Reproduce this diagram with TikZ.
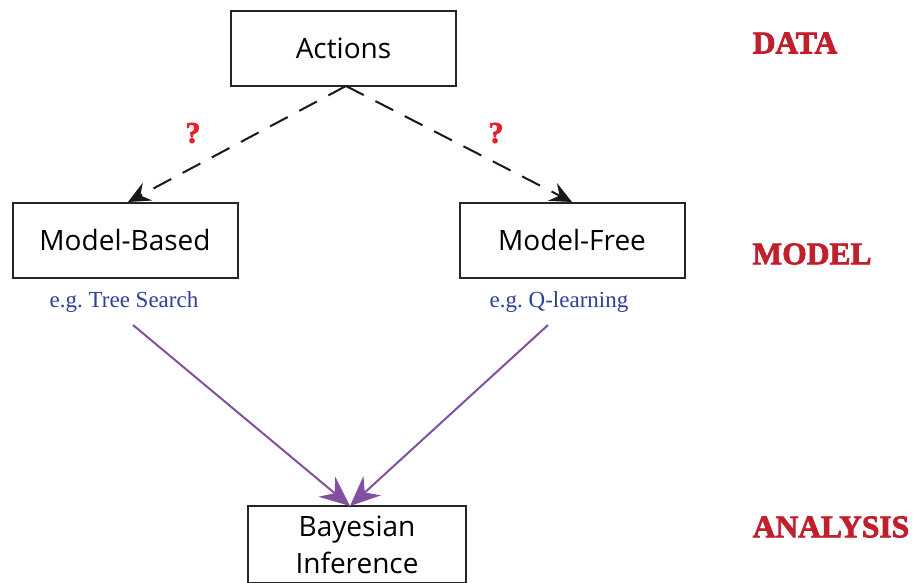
\documentclass[tikz,border=0pt]{standalone}
\usepackage{fontspec}
\setmainfont{Liberation Serif}
\newfontfamily\boxfont{Open Sans}
\newfontfamily\stagefont[FakeBold=2.5]{Liberation Serif Bold}
\usetikzlibrary{arrows.meta}
\definecolor{lblred}{HTML}{C0202E}
\definecolor{qred}{HTML}{E8202A}
\definecolor{egblue}{HTML}{2E3F97}
\definecolor{arrpurple}{HTML}{8150A0}
\tikzset{
  box/.style={draw=black!85, line width=2pt, minimum width=225pt, minimum height=75pt, inner sep=0pt, align=center, font=\boxfont\fontsize{28}{33}\selectfont},
  stage/.style={text=lblred, font=\stagefont\fontsize{31.5}{36}\selectfont, inner sep=0pt},
  qmark/.style={text=qred, font=\stagefont\fontsize{30}{36}\selectfont, inner sep=0pt},
  eg/.style={text=egblue, font=\frenchspacing\fontsize{23}{27}\selectfont, inner sep=0pt},
  dasharrow/.style={draw=black!90, line width=2pt, dash pattern=on 20pt off 13pt, -{Stealth[length=22pt,width=20pt,inset=8pt]}},
  purparrow/.style={draw=arrpurple, line width=2pt, -{Stealth[length=30pt,width=26pt,inset=10pt]}}
}
\begin{document}
\begin{tikzpicture}[x=1pt,y=-1pt]
\useasboundingbox (0,0) rectangle (914,583);
\node[box] (act) at (343.5,48.5) {Actions};
\node[box] (mb) at (125,240.5) {Model-Based};
\node[box] (mf) at (572,240.5) {Model-Free};
\node[box, minimum width=218pt, minimum height=77pt, font=\boxfont\fontsize{28}{37}\selectfont] (bi) at (357,544.5) {Bayesian\\Inference};
\node[stage] (data) at (795,43) {DATA};
\node[stage] (model) at (812,254) {MODEL};
\node[stage] (analysis) at (831,527) {ANALYSIS};
\node[qmark] (q1) at (193,133) {?};
\node[qmark] (q2) at (496,133) {?};
\node[eg] (eg1) at (124,302) {e.g. Tree Search};
\node[eg] (eg2) at (559,302) {e.g. Q-learning};
\coordinate (top) at (346,86);
\coordinate (mbtop) at (128,202);
\coordinate (mftop) at (572,202);
\coordinate (bitop) at (350,506);
\coordinate (eg1b) at (133,325);
\coordinate (eg2b) at (548,325);
\draw[dasharrow] (top) -- (mbtop);
\draw[dasharrow] (top) -- (mftop);
\draw[purparrow] (eg1b) -- (bitop);
\draw[purparrow] (eg2b) -- (bitop);
\end{tikzpicture}
\end{document}
